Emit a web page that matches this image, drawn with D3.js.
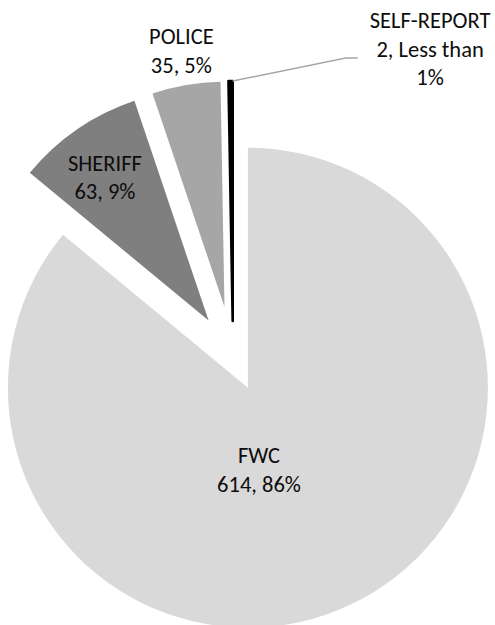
<!DOCTYPE html>
<html>
<head>
<meta charset="utf-8">
<script src="https://cdn.jsdelivr.net/npm/d3@7"></script>
<style>
  html, body { margin: 0; padding: 0; background: #fff; }
  svg { display: block; }
  text { font-family: Carlito, Calibri, Lato, sans-serif; font-size: 22.5px; fill: #0d0d0d; }
</style>
</head>
<body>
<svg id="chart" width="495" height="625"></svg>
<script>
// data
var categories = ["FWC", "SHERIFF", "POLICE", "SELF-REPORT"];
var counts = [614, 63, 35, 2];
var percentText = ["86%", "9%", "5%", "Less than 1%"];

// styling / layout
var colors = ["#d9d9d9", "#7f7f7f", "#a6a6a6", "#000000"];
var explode = [35, 43, 50, 35];           // px each slice is pulled out
var center = [233, 356];
var outerEdge = 275;                        // distance of every slice's outer rim from center
// label anchors, polar about the center: [angle deg clockwise from top, radius]
var labelPolar = [[167.1, 116.4], [324.4, 220], [350.4, 309.8], [32.7, 364.8]];
var lineHeight = 28.5;
var wrapWidth = 125;

var svg = d3.select("#chart");
var g = svg.append("g").attr("transform", "translate(" + center[0] + "," + center[1] + ")");

var pie = d3.pie().sort(null).value(function(d) { return d; });
var arcs = pie(counts);

function polar(angle, r) {
    return [Math.sin(angle) * r, -Math.cos(angle) * r];
}

var slices = g.selectAll("g.slice")
    .data(arcs)
    .join("g")
    .attr("class", "slice")
    .attr("transform", function(d, i) {
        var p = polar((d.startAngle + d.endAngle) / 2, explode[i]);
        return "translate(" + p[0] + "," + p[1] + ")";
    });

slices.append("path")
    .attr("d", function(d, i) {
        return d3.arc().innerRadius(0).outerRadius(outerEdge - explode[i])(d);
    })
    .attr("fill", function(d, i) { return colors[i]; })
    .attr("stroke", function(d, i) { return i === 3 ? "#000" : "none"; })
    .attr("stroke-width", 2.6)
    .attr("stroke-linejoin", "round");

// labels
var labels = g.selectAll("text.label")
    .data(arcs)
    .join("text")
    .attr("class", "label")
    .attr("text-anchor", "middle");

labels.each(function(d, i) {
    var el = d3.select(this);
    var a = labelPolar[i][0] * Math.PI / 180;
    var p = polar(a, labelPolar[i][1]);
    // wrap "count, pct" under the category name
    var words = (counts[i] + ", " + percentText[i]).split(" ");
    var lines = [categories[i]];
    var cur = "";
    var probe = el.append("tspan");
    words.forEach(function(w) {
        var test = cur ? cur + " " + w : w;
        probe.text(test);
        if (probe.node().getComputedTextLength() > wrapWidth && cur) {
            lines.push(cur);
            cur = w;
        } else {
            cur = test;
        }
    });
    lines.push(cur);
    probe.remove();

    var firstY = p[1] - (lines.length - 1) * lineHeight / 2;
    lines.forEach(function(line, k) {
        el.append("tspan")
            .attr("x", p[0])
            .attr("y", firstY + k * lineHeight)
            .attr("dy", "0.35em")
            .text(line);
    });
    d.labelPoint = p;
    d.labelWidth = d3.max(el.selectAll("tspan").nodes(), function(n) { return n.getComputedTextLength(); });
});

// leader line for the tiny slice
var tiny = arcs[3];
var tipLocal = polar(tiny.endAngle, outerEdge - explode[3]);
var shift = polar((tiny.startAngle + tiny.endAngle) / 2, explode[3]);
var start = [tipLocal[0] + shift[0], tipLocal[1] + shift[1]];
var endX = tiny.labelPoint[0] - tiny.labelWidth / 2 - 12;
var endY = tiny.labelPoint[1] + 9;
g.append("path")
    .attr("d", d3.line()([start, [endX - 12, endY], [endX, endY]]))
    .attr("fill", "none")
    .attr("stroke", "#a6a6a6")
    .attr("stroke-width", 1.5);
</script>
</body>
</html>
